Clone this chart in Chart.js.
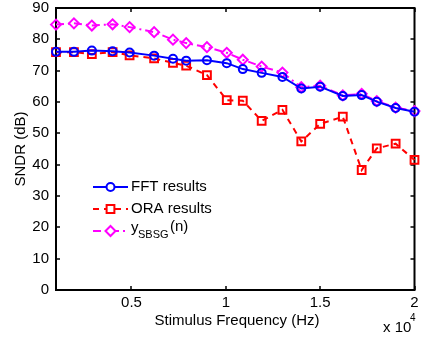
<!DOCTYPE html>
<html>
<head>
<meta charset="utf-8">
<script src="https://cdn.jsdelivr.net/npm/chart.js@4"></script>
<style>
  html, body { margin: 0; padding: 0; background: #fff; }
</style>
</head>
<body>
<canvas id="chartSNDR" width="422" height="339"></canvas>
<script>
// -----------------------------------------------
// data
// -----------------------------------------------
const freqHz = [1000, 1950, 2900, 4000, 4900, 6200, 7200, 7900, 9000, 10050,
                10900, 11900, 13000, 14000, 15000, 16200, 17200, 18000, 19000, 20000];
const fftResults = [76.0, 76.0, 76.4, 76.2, 75.8, 74.8, 73.8, 73.2, 73.3, 72.4,
                    70.5, 69.3, 68.0, 64.3, 64.9, 61.9, 62.2, 60.1, 58.1, 56.9];
const oraResults = [75.9, 75.9, 75.3, 75.9, 74.9, 73.9, 72.5, 71.6, 68.6, 60.6,
                    60.4, 54.0, 57.5, 47.4, 53.0, 55.3, 38.3, 45.2, 46.7, 41.5];
const sbsgResults = [84.7, 85.1, 84.4, 84.8, 83.9, 82.3, 79.9, 78.8, 77.5, 75.7,
                     73.5, 71.3, 69.4, 64.7, 65.2, 62.1, 62.6, 60.3, 58.2, 57.1];

const xTickValues = [5000, 10000, 15000, 20000];
const xTickLabels = ["0.5", "1", "1.5", "2"];
const yTickValues = [0, 10, 20, 30, 40, 50, 60, 70, 80, 90];

const FONT = '"Liberation Sans", Arial, sans-serif';

const pts = arr => arr.map((v, i) => ({ x: freqHz[i], y: v }));

const series = [
  { label: "FFT results", data: pts(fftResults), color: "#0000ff", dash: [], style: "circle", r: 4 },
  { label: "ORA results", data: pts(oraResults), color: "#ff0000", dash: [6, 5], style: "rect", r: 5.5 },
  { label: "y_SBSG(n)", data: pts(sbsgResults), color: "#ff00ff", dash: [8, 4, 2, 4], style: "rectRot", r: 5 }
];

// -----------------------------------------------
// frame with inward ticks (MATLAB look)
// -----------------------------------------------
const framePlugin = {
  id: "frame",
  beforeDatasetsDraw(chart) {
    const { ctx, chartArea: a, scales: { x, y } } = chart;
    ctx.save();
    ctx.strokeStyle = "#000";
    ctx.lineWidth = 2;
    ctx.setLineDash([]);
    ctx.strokeRect(a.left, a.top, a.right - a.left, a.bottom - a.top);
    ctx.lineWidth = 1.5;
    ctx.beginPath();
    const tl = 4;
    xTickValues.forEach(v => {
      const px = Math.round(x.getPixelForValue(v));
      ctx.moveTo(px, a.bottom); ctx.lineTo(px, a.bottom - tl);
      ctx.moveTo(px, a.top); ctx.lineTo(px, a.top + tl);
    });
    yTickValues.forEach(v => {
      const py = Math.round(y.getPixelForValue(v));
      ctx.moveTo(a.left, py); ctx.lineTo(a.left + tl, py);
      ctx.moveTo(a.right, py); ctx.lineTo(a.right - tl, py);
    });
    ctx.stroke();
    ctx.restore();
  },
  afterDraw(chart) {
    const { ctx, chartArea: a } = chart;
    ctx.save();
    ctx.fillStyle = "#000";
    ctx.font = "15px " + FONT;
    ctx.textBaseline = "middle";

    // axis titles
    ctx.textAlign = "center";
    ctx.fillText("Stimulus Frequency (Hz)", 237, 321);
    ctx.save();
    ctx.translate(21, (a.top + a.bottom) / 2);
    ctx.rotate(-Math.PI / 2);
    ctx.fillText("SNDR (dB)", 0, 0);
    ctx.restore();

    // x 10^4 multiplier
    ctx.textAlign = "left";
    ctx.fillText("x 10", 383, 328);
    ctx.font = "10px " + FONT;
    ctx.fillText("4", 410, 318);

    // legend
    const rows = [187, 209, 231];
    series.forEach((s, i) => {
      const yy = rows[i];
      ctx.strokeStyle = s.color;
      ctx.lineWidth = 2;
      ctx.setLineDash(s.dash);
      ctx.beginPath();
      ctx.moveTo(93, yy); ctx.lineTo(128, yy);
      ctx.stroke();
      ctx.setLineDash([]);
      ctx.fillStyle = "#fff";
      Chart.helpers.drawPoint(ctx, {
        pointStyle: s.style, radius: s.r, rotation: 0, borderWidth: 2
      }, 110.5, yy);
      ctx.fillStyle = "#000";
      ctx.font = "15px " + FONT;
      ctx.textAlign = "left";
      if (i < 2) {
        ctx.fillText(s.label, 131, yy);
      } else {
        ctx.fillText("y", 131, yy - 3);
        ctx.font = "11px " + FONT;
        ctx.fillText("SBSG", 138, yy + 4);
        ctx.font = "15px " + FONT;
        ctx.fillText("(n)", 170, yy - 4);
      }
    });
    ctx.restore();
  }
};

new Chart(document.getElementById("chartSNDR"), {
  type: "line",
  data: {
    datasets: series.map(s => ({
      label: s.label,
      data: s.data,
      borderColor: s.color,
      backgroundColor: "rgba(0,0,0,0)",
      borderWidth: 2,
      borderDash: s.dash,
      pointStyle: s.style,
      pointRadius: s.r,
      pointBorderWidth: 2,
      pointBorderColor: s.color,
      pointBackgroundColor: "rgba(0,0,0,0)",
      tension: 0,
      clip: false
    }))
  },
  options: {
    responsive: false,
    animation: false,
    devicePixelRatio: 1,
    layout: { padding: { left: 0, right: 4, top: 8, bottom: 0 } },
    plugins: { legend: { display: false }, tooltip: { enabled: false } },
    scales: {
      x: {
        type: "linear",
        min: 1000,
        max: 20000,
        grid: { display: false, drawTicks: false },
        border: { display: false },
        afterBuildTicks: s => { s.ticks = xTickValues.map(v => ({ value: v })); },
        afterFit: s => { s.height = 49; s.paddingLeft = 0; s.paddingRight = 0; },
        ticks: {
          padding: 4,
          maxRotation: 0,
          color: "#000",
          font: { family: FONT, size: 15 },
          callback: v => xTickLabels[xTickValues.indexOf(v)]
        }
      },
      y: {
        min: 0,
        max: 90,
        grid: { display: false, drawTicks: false },
        border: { display: false },
        afterBuildTicks: s => { s.ticks = yTickValues.map(v => ({ value: v })); },
        afterFit: s => { s.width = 56; s.paddingTop = 0; s.paddingBottom = 0; },
        ticks: {
          padding: 7,
          color: "#000",
          font: { family: FONT, size: 15 }
        }
      }
    }
  },
  plugins: [framePlugin]
});
</script>
</body>
</html>
